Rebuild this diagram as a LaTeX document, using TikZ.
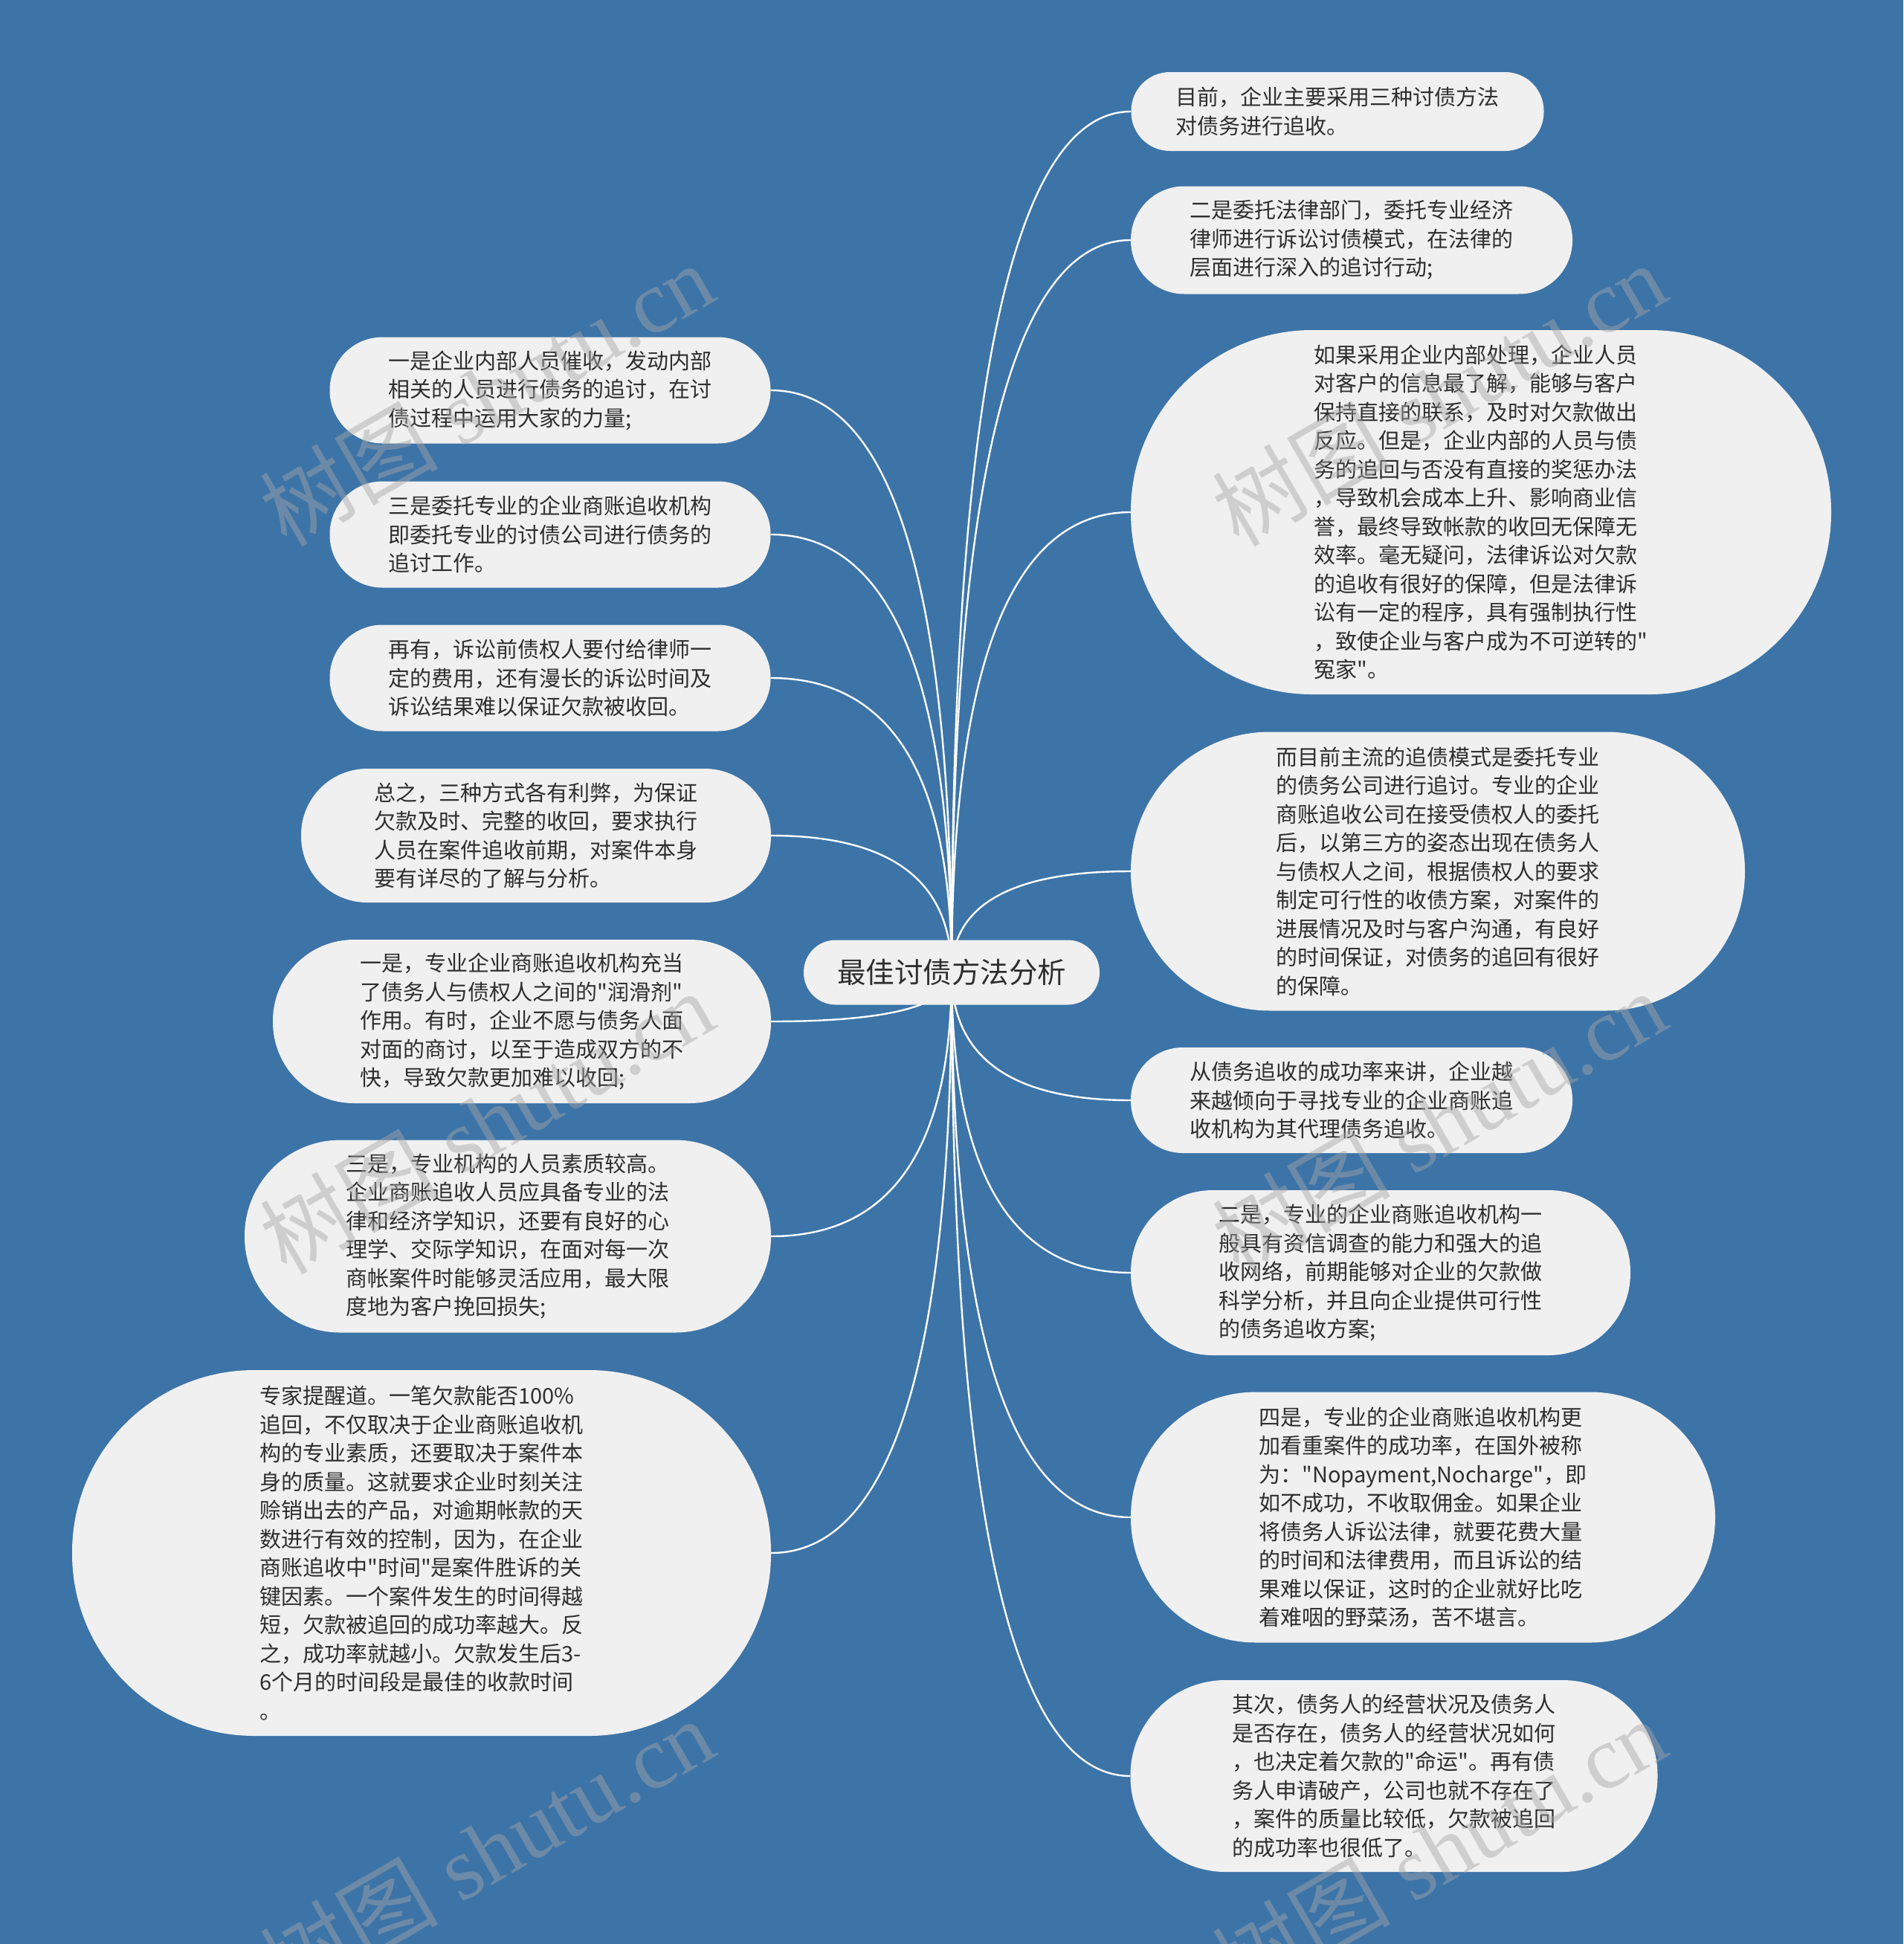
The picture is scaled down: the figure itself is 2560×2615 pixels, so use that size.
\documentclass[tikz,border=0pt]{standalone}
\usepackage{fontspec}
\newfontfamily\cjk{Noto Sans CJK SC}
\newfontfamily\wmserif{Liberation Serif}
\usetikzlibrary{calc}
\definecolor{bgblue}{HTML}{3D74A8}
\definecolor{boxfill}{HTML}{F0F0F0}
\definecolor{txt}{HTML}{2E2E2E}
\pgfdeclarelayer{bg}
\pgfsetlayers{bg,main}
\begin{document}
\begin{tikzpicture}[x=1pt,y=-1pt,
  leaf/.style={fill=boxfill, text=txt, align=left, inner sep=0pt,
    font=\cjk\fontsize{29}{38.5}\selectfont},
  root/.style={fill=boxfill, text=txt, inner sep=0pt,
    font=\cjk\fontsize{38.5}{46}\selectfont},
  link/.style={draw=white, line width=2.4pt},
  wm/.style={text=gray!70, opacity=0.45, rotate=30, inner sep=0pt,
    font=\wmserif\fontsize{120}{130}\selectfont}
]
\path[use as bounding box] (0,0) rectangle (2560,2615);
\begin{pgfonlayer}{bg}
\fill[bgblue] (0,0) rectangle (2560,2615);
\end{pgfonlayer}

% root
\node[root, minimum width=398pt, minimum height=87pt, rounded corners=43pt] (c) at (1280,1308) {最佳讨债方法分析};

% right
\node[leaf, minimum width=555pt, minimum height=106pt, rounded corners=52pt] (r1) at (1799,150) {目前，企业主要采用三种讨债方法\\对债务进行追收。};
\node[leaf, minimum width=594pt, minimum height=145pt, rounded corners=72pt] (r2) at (1818,323) {二是委托法律部门，委托专业经济\\律师进行诉讼讨债模式，在法律的\\层面进行深入的追讨行动;};
\node[leaf, minimum width=942pt, minimum height=490pt, rounded corners=244pt] (r3) at (1992,689) {如果采用企业内部处理，企业人员\\对客户的信息最了解，能够与客户\\保持直接的联系，及时对欠款做出\\反应。但是，企业内部的人员与债\\务的追回与否没有直接的奖惩办法\\，导致机会成本上升、影响商业信\\誉，最终导致帐款的收回无保障无\\效率。毫无疑问，法律诉讼对欠款\\的追收有很好的保障，但是法律诉\\讼有一定的程序，具有强制执行性\\，致使企业与客户成为不可逆转的"\\冤家"。};
\node[leaf, minimum width=826pt, minimum height=375pt, rounded corners=187pt] (r4) at (1934,1172) {而目前主流的追债模式是委托专业\\的债务公司进行追讨。专业的企业\\商账追收公司在接受债权人的委托\\后，以第三方的姿态出现在债务人\\与债权人之间，根据债权人的要求\\制定可行性的收债方案，对案件的\\进展情况及时与客户沟通，有良好\\的时间保证，对债务的追回有很好\\的保障。};
\node[leaf, minimum width=594pt, minimum height=142pt, rounded corners=70pt] (r5) at (1818,1480) {从债务追收的成功率来讲，企业越\\来越倾向于寻找专业的企业商账追\\收机构为其代理债务追收。};
\node[leaf, minimum width=672pt, minimum height=222pt, rounded corners=110pt] (r6) at (1857,1712) {二是，专业的企业商账追收机构一\\般具有资信调查的能力和强大的追\\收网络，前期能够对企业的欠款做\\科学分析，并且向企业提供可行性\\的债务追收方案;};
\node[leaf, minimum width=786pt, minimum height=337pt, rounded corners=168pt] (r7) at (1914,2041) {四是，专业的企业商账追收机构更\\加看重案件的成功率，在国外被称\\为："Nopayment,Nocharge"，即\\如不成功，不收取佣金。如果企业\\将债务人诉讼法律，就要花费大量\\的时间和法律费用，而且诉讼的结\\果难以保证，这时的企业就好比吃\\着难咽的野菜汤，苦不堪言。};
\node[leaf, minimum width=709pt, minimum height=258pt, rounded corners=128pt] (r8) at (1875,2389) {其次，债务人的经营状况及债务人\\是否存在，债务人的经营状况如何\\，也决定着欠款的"命运"。再有债\\务人申请破产，公司也就不存在了\\，案件的质量比较低，欠款被追回\\的成功率也很低了。};

% left
\node[leaf, minimum width=593pt, minimum height=143pt, rounded corners=71pt] (l1) at (740,525) {一是企业内部人员催收，发动内部\\相关的人员进行债务的追讨，在讨\\债过程中运用大家的力量;};
\node[leaf, minimum width=593pt, minimum height=143pt, rounded corners=71pt] (l2) at (740,719) {三是委托专业的企业商账追收机构\\即委托专业的讨债公司进行债务的\\追讨工作。};
\node[leaf, minimum width=593pt, minimum height=143pt, rounded corners=71pt] (l3) at (740,912) {再有，诉讼前债权人要付给律师一\\定的费用，还有漫长的诉讼时间及\\诉讼结果难以保证欠款被收回。};
\node[leaf, minimum width=632pt, minimum height=180pt, rounded corners=89pt] (l4) at (721,1124) {总之，三种方式各有利弊，为保证\\欠款及时、完整的收回，要求执行\\人员在案件追收前期，对案件本身\\要有详尽的了解与分析。};
\node[leaf, minimum width=670pt, minimum height=220pt, rounded corners=109pt] (l5) at (702,1374) {一是，专业企业商账追收机构充当\\了债务人与债权人之间的"润滑剂"\\作用。有时，企业不愿与债务人面\\对面的商讨，以至于造成双方的不\\快，导致欠款更加难以收回;};
\node[leaf, minimum width=708pt, minimum height=259pt, rounded corners=129pt] (l6) at (683,1663) {三是，专业机构的人员素质较高。\\企业商账追收人员应具备专业的法\\律和经济学知识，还要有良好的心\\理学、交际学知识，在面对每一次\\商帐案件时能够灵活应用，最大限\\度地为客户挽回损失;};
\node[leaf, minimum width=940pt, minimum height=492pt, rounded corners=245pt] (l7) at (567,2089) {专家提醒道。一笔欠款能否100\%\\追回，不仅取决于企业商账追收机\\构的专业素质，还要取决于案件本\\身的质量。这就要求企业时刻关注\\赊销出去的产品，对逾期帐款的天\\数进行有效的控制，因为，在企业\\商账追收中"时间"是案件胜诉的关\\键因素。一个案件发生的时间得越\\短，欠款被追回的成功率越大。反\\之，成功率就越小。欠款发生后3-\\6个月的时间段是最佳的收款时间\\。};

% connectors
\begin{pgfonlayer}{bg}
\foreach \n in {r1,r2,r3,r4,r5,r6,r7,r8} {
  \coordinate (k\n) at (c.center|-\n.west);
  \draw[link] (c.center) .. controls ($(c.center)!0.667!(k\n)$) and ($(\n.west)!0.667!(k\n)$) .. (\n.west);
}
\foreach \n in {l1,l2,l3,l4,l5,l6,l7} {
  \coordinate (k\n) at (c.center|-\n.east);
  \draw[link] (c.center) .. controls ($(c.center)!0.667!(k\n)$) and ($(\n.east)!0.667!(k\n)$) .. (\n.east);
}
\end{pgfonlayer}

% watermarks
\node[wm] (w1) at (654,530) {{\cjk 树图} shutu.cn};
\node[wm] (w2) at (1935,530) {{\cjk 树图} shutu.cn};
\node[wm] (w3) at (654,1509) {{\cjk 树图} shutu.cn};
\node[wm] (w4) at (1935,1509) {{\cjk 树图} shutu.cn};
\node[wm] (w5) at (654,2488) {{\cjk 树图} shutu.cn};
\node[wm] (w6) at (1935,2488) {{\cjk 树图} shutu.cn};
\end{tikzpicture}
\end{document}
